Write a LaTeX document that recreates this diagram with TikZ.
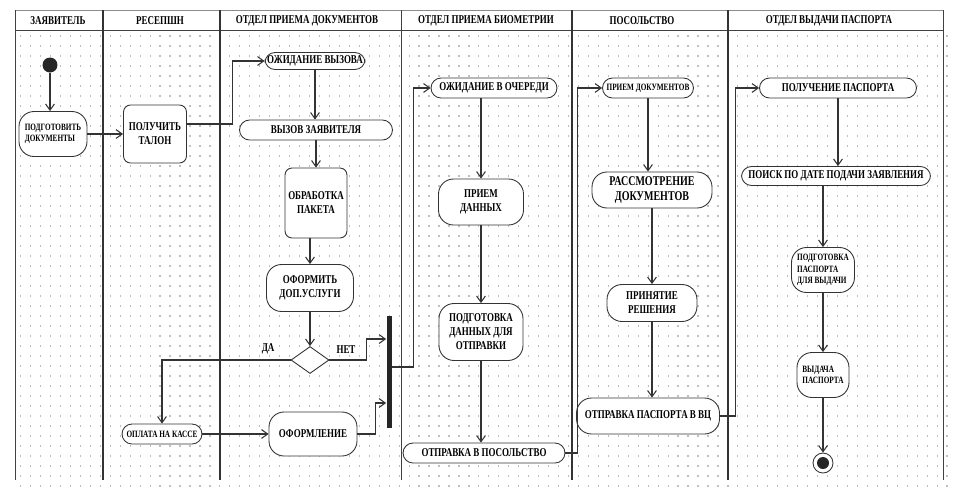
\documentclass[tikz,border=0pt]{standalone}
\usepackage{fontspec}
\setmainfont{Liberation Serif}[FakeStretch=0.75]
\usetikzlibrary{arrows.meta,positioning,shapes.geometric}

\begin{document}
\begin{tikzpicture}[x=0.02cm,y=-0.02cm]
    \tikzstyle{lane}=[draw,line width = 1.3pt,black!80]
    \tikzstyle{thinlane}=[draw,line width = .5pt,black!75]
    \tikzstyle{dotrow}=[draw,line width = .7pt,black!25,dash pattern=on .7pt off 4.97pt]
    \tikzstyle{head}=[font=\fontsize{6.8}{7.6}\selectfont\bfseries,inner sep=1pt]
    \tikzstyle{act}=[draw,line width = .5pt,black!80,text=black,fill=white,rounded corners=.2cm,align=center,inner sep=1pt,font=\fontsize{6.8}{8}\selectfont\bfseries]
    \tikzstyle{tall}=[rounded corners=.3cm]
    \tikzstyle{smallfont}=[font=\fontsize{5.5}{6.6}\selectfont\bfseries]
    \tikzstyle{bigfont}=[font=\fontsize{7.6}{9}\selectfont\bfseries]
    \tikzstyle{barrel}=[rounded corners=.14cm]
    \tikzstyle{flow}=[draw,line width = .6pt,black!80,-{Straight Barb[length=3.5pt,width=5pt]}]
    \tikzstyle{lbl}=[font=\fontsize{6.8}{7.6}\selectfont\bfseries,inner sep=1pt]
    \useasboundingbox (0,0) rectangle (954,498);
    \foreach \y in {36,46,...,486}
        \draw[dotrow] (20,\y) -- (950,\y);
    \draw[thinlane,black!45] (15,10) -- (943,10);
    \draw[thinlane] (15,30) -- (943,30);
    \draw[thinlane] (15,10) -- (15,480);
    \draw[lane] (103,10) -- (103,480);
    \draw[lane] (220,10) -- (220,480);
    \draw[thinlane] (401,10) -- (401,480);
    \draw[lane] (572,10) -- (572,480);
    \draw[lane] (728,10) -- (728,480);
    \draw[thinlane] (943,10) -- (943,480);
    \node[head] (hzav) at (58,21) {ЗАЯВИТЕЛЬ};
    \node[head] (hres) at (160,21) {РЕСЕПШН};
    \node[head] (hdoc) at (307,21) {ОТДЕЛ ПРИЕМА ДОКУМЕНТОВ};
    \node[head] (hbio) at (486,21) {ОТДЕЛ ПРИЕМА БИОМЕТРИИ};
    \node[head] (hemb) at (642,21) {ПОСОЛЬСТВО};
    \node[head] (hiss) at (829,21) {ОТДЕЛ ВЫДАЧИ ПАСПОРТА};
    \node[circle,fill=black!85,minimum size=.3cm,inner sep=0] (start) at (50,65) {};
    \node[act,tall,smallfont,align=left,minimum width=1.36cm,minimum height=.9cm] (prep) at (53,134) {ПОДГОТОВИТЬ\\ДОКУМЕНТЫ};
    \node[act,barrel,minimum width=1.26cm,minimum height=1.16cm] (talon) at (155,134) {ПОЛУЧИТЬ\\ТАЛОН};
    \node[act,minimum width=2cm,minimum height=.34cm] (wait) at (315,61) {ОЖИДАНИЕ ВЫЗОВА};
    \node[act,minimum width=3.06cm,minimum height=.4cm] (call) at (316,130) {ВЫЗОВ ЗАЯВИТЕЛЯ};
    \node[act,barrel,minimum width=1.24cm,minimum height=1.4cm] (packet) at (316,203) {ОБРАБОТКА\\ПАКЕТА};
    \node[act,tall,minimum width=1.74cm,minimum height=.94cm] (extra) at (310,288) {ОФОРМИТЬ\\ДОП.УСЛУГИ};
    \node[diamond,draw,line width = .5pt,black!80,fill=white,minimum width=.76cm,minimum height=.54cm,inner sep=0] (choice) at (310,360) {};
    \node[lbl,above left=.08cm and .28cm of choice.west] (yes) {ДА};
    \node[lbl,above right=.08cm and .1cm of choice.east] (no) {НЕТ};
    \node[act,smallfont,minimum width=1.6cm,minimum height=.4cm] (pay) at (162,434) {ОПЛАТА НА КАССЕ};
    \node[act,tall,minimum width=1.76cm,minimum height=.88cm] (form) at (313,434) {ОФОРМЛЕНИЕ};
    \node[fill=black!85,minimum width=.1cm,minimum height=2.24cm,inner sep=0] (sync) at (389,372) {};
    \node[act,minimum width=2.52cm,minimum height=.4cm] (queue) at (494,88) {ОЖИДАНИЕ В ОЧЕРЕДИ};
    \node[act,tall,minimum width=1.7cm,minimum height=.92cm] (data) at (481,202) {ПРИЕМ\\ДАННЫХ};
    \node[act,tall,minimum width=1.68cm,minimum height=1.14cm] (pack) at (481,332) {ПОДГОТОВКА\\ДАННЫХ ДЛЯ\\ОТПРАВКИ};
    \node[act,minimum width=3.24cm,minimum height=.4cm] (toemb) at (484,453) {ОТПРАВКА В ПОСОЛЬСТВО};
    \node[act,smallfont,minimum width=1.82cm,minimum height=.4cm] (recv) at (648,88) {ПРИЕМ ДОКУМЕНТОВ};
    \node[act,tall,bigfont,minimum width=2.4cm,minimum height=.72cm] (review) at (652,190) {РАССМОТРЕНИЕ\\ДОКУМЕНТОВ};
    \node[act,tall,minimum width=1.8cm,minimum height=.74cm] (decide) at (652,303) {ПРИНЯТИЕ\\РЕШЕНИЯ};
    \node[act,tall,minimum width=2.86cm,minimum height=.72cm] (tovc) at (648,416) {ОТПРАВКА ПАСПОРТА В ВЦ};
    \node[act,minimum width=3.14cm,minimum height=.4cm] (get) at (838,88) {ПОЛУЧЕНИЕ ПАСПОРТА};
    \node[act,minimum width=3.78cm,minimum height=.38cm] (search) at (836,176) {ПОИСК ПО ДАТЕ ПОДАЧИ ЗАЯВЛЕНИЯ};
    \node[act,tall,smallfont,align=left,minimum width=1.26cm,minimum height=.9cm] (prepp) at (823,270) {ПОДГОТОВКА\\ПАСПОРТА\\ДЛЯ ВЫДАЧИ};
    \node[act,tall,smallfont,align=left,minimum width=1.04cm,minimum height=.9cm] (hand) at (823,375) {ВЫДАЧА\\ПАСПОРТА};
    \node[circle,draw,line width = .5pt,black!80,fill=white,minimum size=.4cm,inner sep=0] (fin) at (823,463) {};
    \node[circle,fill=black!85,minimum size=.24cm,inner sep=0] (fincore) at (fin) {};
    \draw[flow] (start) -- (start |- prep.north);
    \draw[flow] (prep) -- (talon);
    \draw[flow] ([yshift=.2cm]talon.east) -- ++(46,0) |- (wait);
    \draw[flow] (wait) -- (wait |- call.north);
    \draw[flow] (call) -- (call |- packet.north);
    \draw[flow] (extra |- packet.south) -- (extra);
    \draw[flow] (extra) -- (choice);
    \draw[flow] (choice.west) -| (pay);
    \draw[flow] (choice.east) -- ++(37,0) |- ([yshift=.66cm]sync.west);
    \draw[flow] (pay) -- (form);
    \draw[flow] (form.east) -- ++(18,0) |- ([yshift=-.62cm]sync.west);
    \draw[flow] ([yshift=.1cm]sync.east) -- ++(22,0) |- (queue);
    \draw[flow] (data |- queue.south) -- (data);
    \draw[flow] (data) -- (pack);
    \draw[flow] (pack) -- (pack |- toemb.north);
    \draw[flow] (toemb.east) -- ++(12,0) |- (recv);
    \draw[flow] (recv) -- (recv |- review.north);
    \draw[flow] (review) -- (decide);
    \draw[flow] (decide) -- (decide |- tovc.north);
    \draw[flow] (tovc.east) -- ++(16,0) |- (get);
    \draw[flow] (get) -- (get |- search.north);
    \draw[flow] (prepp |- search.south) -- (prepp);
    \draw[flow] (prepp) -- (hand);
    \draw[flow] (hand) -- (fin);
\end{tikzpicture}
\end{document}
